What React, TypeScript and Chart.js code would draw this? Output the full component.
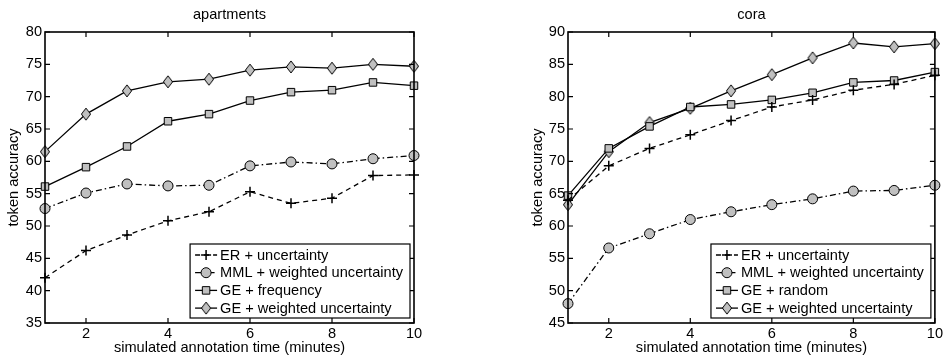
import React, { useEffect, useRef } from 'react';
import { Chart, registerables } from 'chart.js';
import { drawPoint } from 'chart.js/helpers';

Chart.register(...registerables);

// ---------- data ----------
const minutes = [1, 2, 3, 4, 5, 6, 7, 8, 9, 10];
const xTickValues = [2, 4, 6, 8, 10];
const apartmentsYTicks = [35, 40, 45, 50, 55, 60, 65, 70, 75, 80];
const coraYTicks = [45, 50, 55, 60, 65, 70, 75, 80, 85, 90];

const apartmentsER = [42.0, 46.2, 48.6, 50.8, 52.2, 55.3, 53.5, 54.3, 57.8, 57.9];
const apartmentsMML = [52.7, 55.1, 56.5, 56.2, 56.3, 59.3, 59.9, 59.6, 60.4, 60.9];
const apartmentsGEFrequency = [56.1, 59.1, 62.3, 66.2, 67.3, 69.4, 70.7, 71.0, 72.2, 71.7];
const apartmentsGEWeighted = [61.5, 67.3, 70.9, 72.3, 72.7, 74.1, 74.6, 74.4, 75.0, 74.7];

const coraER = [64.0, 69.3, 72.0, 74.1, 76.3, 78.4, 79.5, 81.0, 81.9, 83.3];
const coraMML = [48.0, 56.6, 58.8, 61.0, 62.2, 63.3, 64.2, 65.4, 65.5, 66.3];
const coraGERandom = [64.7, 72.0, 75.4, 78.4, 78.8, 79.5, 80.6, 82.2, 82.5, 83.8];
const coraGEWeighted = [63.3, 71.5, 76.0, 78.2, 80.9, 83.4, 86.0, 88.3, 87.7, 88.2];

const apartmentsLabels = ['ER + uncertainty', 'MML + weighted uncertainty', 'GE + frequency', 'GE + weighted uncertainty'];
const coraLabels = ['ER + uncertainty', 'MML + weighted uncertainty', 'GE + random', 'GE + weighted uncertainty'];

// ---------- styles ----------
const FONT = '"Liberation Sans", Arial, Helvetica, sans-serif';
const FS = 14.6;
const GRAY = '#c0c0c0';

function makeDiamond(): HTMLCanvasElement {
  const c = document.createElement('canvas');
  c.width = 12;
  c.height = 14;
  const g = c.getContext('2d')!;
  g.beginPath();
  g.moveTo(6, 1);
  g.lineTo(10.6, 7);
  g.lineTo(6, 13);
  g.lineTo(1.4, 7);
  g.closePath();
  g.fillStyle = GRAY;
  g.fill();
  g.lineWidth = 1;
  g.strokeStyle = '#000';
  g.stroke();
  return c;
}

function buildDatasets(labels: string[], series: number[][], diamond: HTMLCanvasElement) {
  const styles = [
    { dash: [5, 4], pointStyle: 'cross', radius: 5, pbw: 1.5 },
    { dash: [6, 3, 1.5, 3], pointStyle: 'circle', radius: 5, pbw: 1 },
    { dash: [], pointStyle: 'rect', radius: 5.3, pbw: 1 },
    { dash: [], pointStyle: diamond, radius: 6, pbw: 1 },
  ];
  return series.map((vals, i) => ({
    label: labels[i],
    data: vals.map((v, j) => ({ x: minutes[j], y: v })),
    borderColor: '#000',
    borderWidth: 1.3,
    borderDash: styles[i].dash,
    pointStyle: styles[i].pointStyle as any,
    pointRadius: styles[i].radius,
    pointBorderWidth: styles[i].pbw,
    pointBorderColor: '#000',
    pointBackgroundColor: GRAY,
    tension: 0,
    clip: false as any,
  }));
}

const framePlugin = {
  id: 'frame',
  afterDatasetsDraw(chart: any, _args: any, opts: any) {
    const { ctx, chartArea: a, scales } = chart;
    ctx.save();
    ctx.strokeStyle = '#000';
    ctx.lineWidth = 1.2;
    ctx.setLineDash([]);
    const tl = 5;
    ctx.beginPath();
    for (const v of opts.xTicks) {
      const px = scales.x.getPixelForValue(v);
      ctx.moveTo(px, a.bottom);
      ctx.lineTo(px, a.bottom - tl);
      ctx.moveTo(px, a.top);
      ctx.lineTo(px, a.top + tl);
    }
    for (const v of opts.yTicks) {
      const py = scales.y.getPixelForValue(v);
      ctx.moveTo(a.left, py);
      ctx.lineTo(a.left + tl, py);
      ctx.moveTo(a.right, py);
      ctx.lineTo(a.right - tl, py);
    }
    ctx.stroke();
    ctx.lineWidth = 1.6;
    ctx.strokeRect(a.left, a.top, a.right - a.left, a.bottom - a.top);

    // title
    ctx.fillStyle = '#000';
    ctx.font = `${FS}px ${FONT}`;
    ctx.textAlign = 'center';
    ctx.textBaseline = 'middle';
    ctx.fillText(opts.title, (a.left + a.right) / 2, 15);

    // legend
    const items = chart.data.datasets;
    const maxW = Math.max(...items.map((d: any) => ctx.measureText(d.label).width));
    const rowH = 17.7;
    const boxW = 30 + maxW + 7;
    const boxH = rowH * items.length + 3.2;
    const bx = a.right - 4 - boxW;
    const by = a.bottom - 5 - boxH;
    ctx.fillStyle = '#fff';
    ctx.fillRect(bx, by, boxW, boxH);
    ctx.lineWidth = 1.2;
    ctx.strokeStyle = '#000';
    ctx.strokeRect(bx, by, boxW, boxH);
    items.forEach((d: any, i: number) => {
      const cy = by + 11 + i * rowH;
      ctx.lineWidth = d.borderWidth;
      ctx.strokeStyle = '#000';
      ctx.setLineDash(d.borderDash || []);
      ctx.beginPath();
      ctx.moveTo(bx + 5, cy);
      ctx.lineTo(bx + 27, cy);
      ctx.stroke();
      ctx.setLineDash([]);
      ctx.fillStyle = d.pointBackgroundColor;
      ctx.strokeStyle = '#000';
      ctx.lineWidth = d.pointBorderWidth;
      drawPoint(ctx, { pointStyle: d.pointStyle, rotation: 0, radius: d.pointRadius, borderWidth: d.pointBorderWidth } as any, bx + 16, cy);
      ctx.fillStyle = '#000';
      ctx.textAlign = 'left';
      ctx.textBaseline = 'middle';
      ctx.fillText(d.label, bx + 30, cy + 0.5);
    });
    ctx.restore();
  },
};

function buildConfig(
  title: string,
  labels: string[],
  series: number[][],
  yMin: number,
  yMax: number,
  yTicks: number[],
  padLeft: number,
  padRight: number,
  yWidth: number,
  diamond: HTMLCanvasElement
): any {
  const font = { family: FONT, size: FS };
  return {
    type: 'line',
    data: { datasets: buildDatasets(labels, series, diamond) },
    plugins: [framePlugin],
    options: {
      responsive: false,
      animation: false,
      events: [],
      layout: { padding: { top: 32, left: padLeft, right: padRight, bottom: 0 } },
      plugins: {
        legend: { display: false },
        tooltip: { enabled: false },
        title: { display: false },
        frame: { title, xTicks: xTickValues, yTicks },
      },
      scales: {
        x: {
          type: 'linear',
          min: 1,
          max: 10,
          grid: { display: false, drawTicks: false },
          border: { display: false },
          afterBuildTicks: (s: any) => {
            s.ticks = xTickValues.map((v) => ({ value: v }));
          },
          afterFit: (s: any) => {
            s.height = 37;
          },
          ticks: { color: '#000', font, padding: 2, maxRotation: 0, autoSkip: false },
          title: {
            display: true,
            text: 'simulated annotation time (minutes)',
            color: '#000',
            font,
            padding: { top: 0, bottom: 3 },
          },
        },
        y: {
          type: 'linear',
          min: yMin,
          max: yMax,
          grid: { display: false, drawTicks: false },
          border: { display: false },
          afterBuildTicks: (s: any) => {
            s.ticks = yTicks.map((v) => ({ value: v }));
          },
          afterFit: (s: any) => {
            s.width = yWidth;
          },
          ticks: { color: '#000', font, padding: 3, autoSkip: false },
          title: {
            display: true,
            text: 'token accuracy',
            color: '#000',
            font,
            padding: { top: 5, bottom: 0 },
          },
        },
      },
    },
  };
}

export default function App() {
  const leftRef = useRef<HTMLCanvasElement>(null);
  const rightRef = useRef<HTMLCanvasElement>(null);

  useEffect(() => {
    const diamond = makeDiamond();
    const c1 = new Chart(
      leftRef.current!,
      buildConfig(
        'apartments',
        apartmentsLabels,
        [apartmentsER, apartmentsMML, apartmentsGEFrequency, apartmentsGEWeighted],
        35,
        80,
        apartmentsYTicks,
        0,
        56,
        45,
        diamond
      )
    );
    const c2 = new Chart(
      rightRef.current!,
      buildConfig(
        'cora',
        coraLabels,
        [coraER, coraMML, coraGERandom, coraGEWeighted],
        45,
        90,
        coraYTicks,
        54,
        9,
        44,
        diamond
      )
    );
    return () => {
      c1.destroy();
      c2.destroy();
    };
  }, []);

  return (
    <div style={{ position: 'fixed', left: 0, top: 0, width: 945, height: 360, background: '#fff' }}>
      <canvas ref={leftRef} width={470} height={360} style={{ position: 'absolute', left: 0, top: 0, display: 'block' }} />
      <canvas ref={rightRef} width={475} height={360} style={{ position: 'absolute', left: 470, top: 0, display: 'block' }} />
    </div>
  );
}
